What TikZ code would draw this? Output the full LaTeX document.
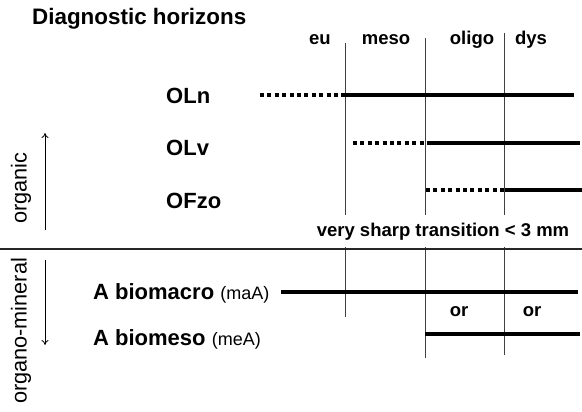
\documentclass[tikz,border=0pt]{standalone}
\usepackage{fontspec}
\setmainfont{Liberation Sans}
\usetikzlibrary{arrows.meta}
\begin{document}
\begin{tikzpicture}[x=1pt,y=-1pt,
  title/.style={font=\fontsize{22.4}{26}\selectfont\bfseries, anchor=west, inner sep=0},
  hlabel/.style={font=\fontsize{22}{25}\selectfont\bfseries, anchor=west, inner sep=0},
  colhead/.style={font=\fontsize{18.5}{22}\selectfont\bfseries, inner sep=0},
  side/.style={font=\fontsize{21.7}{25}\selectfont, rotate=90, inner sep=0},
  bar/.style={line width=4pt},
  dotbar/.style={line width=4pt, dash pattern=on 4pt off 3.4pt},
  vline/.style={line width=0.9pt, black!75},
  sep/.style={line width=1.8pt, black!85},
  arr/.style={line width=0.8pt, -{To[length=5pt,width=7pt]}}
]
\useasboundingbox (0,0) rectangle (582,412);

% title
\node[title] (title) at (32,19) {Diagnostic horizons};

% column headers
\node[colhead] (eu) at (320,40) {eu};
\node[colhead] (meso) at (386,40) {meso};
\node[colhead] (oligo) at (472,40) {oligo};
\node[colhead] (dys) at (531,40) {dys};

% vertical lines
\draw[vline] (345,43) -- (345,215) (345,247) -- (345,317);
\draw[vline] (425,38) -- (425,215) (425,247) -- (425,358);
\draw[vline] (504,33) -- (504,215) (504,247) -- (504,355);

% organic horizons
\node[hlabel] (oln) at (166,96) {OLn};
\node[hlabel] (olv) at (166,148) {OLv};
\node[hlabel] (ofzo) at (166,201) {OFzo};

\coordinate (olnA) at (260,95);
\coordinate (olnB) at (344,95);
\coordinate (olnC) at (574,95);
\draw[dotbar] (olnA) -- (olnB);
\draw[bar] (olnB) -- (olnC);

\coordinate (olvA) at (353,143);
\coordinate (olvB) at (428,143);
\coordinate (olvC) at (580,143);
\draw[dotbar] (olvA) -- (olvB);
\draw[bar] (olvB) -- (olvC);

\coordinate (ofzoA) at (426,190);
\coordinate (ofzoB) at (505,190);
\coordinate (ofzoC) at (582,190);
\draw[dotbar] (ofzoA) -- (ofzoB);
\draw[bar] (ofzoB) -- (ofzoC);

% transition
\node[colhead] (trans) at (443,232) {very sharp transition < 3 mm};
\coordinate (sepL) at (0,249);
\coordinate (sepR) at (582,249);
\draw[sep] (sepL) -- (sepR);

% organo-mineral horizons
\node[hlabel] (macro) at (93,293) {A biomacro {\fontsize{18}{22}\selectfont\mdseries (maA)}};
\node[hlabel] (meso2) at (93,339) {A biomeso {\fontsize{18}{22}\selectfont\mdseries (meA)}};

\coordinate (macroA) at (281,292);
\coordinate (macroB) at (578,292);
\draw[bar] (macroA) -- (macroB);

\coordinate (mesoA) at (425,334);
\coordinate (mesoB) at (580,334);
\draw[bar] (mesoA) -- (mesoB);

\node[colhead] (or1) at (459,312) {or};
\node[colhead] (or2) at (532,312) {or};

% side labels and arrows
\node[side] (organic) at (21,188) {organic};
\node[side] (orgmin) at (21,331) {organo-mineral};
\coordinate (upA) at (45,230);
\coordinate (upB) at (45,133);
\draw[arr] (upA) -- (upB);
\coordinate (dnA) at (45,260);
\coordinate (dnB) at (45,345);
\draw[arr] (dnA) -- (dnB);
\end{tikzpicture}
\end{document}
